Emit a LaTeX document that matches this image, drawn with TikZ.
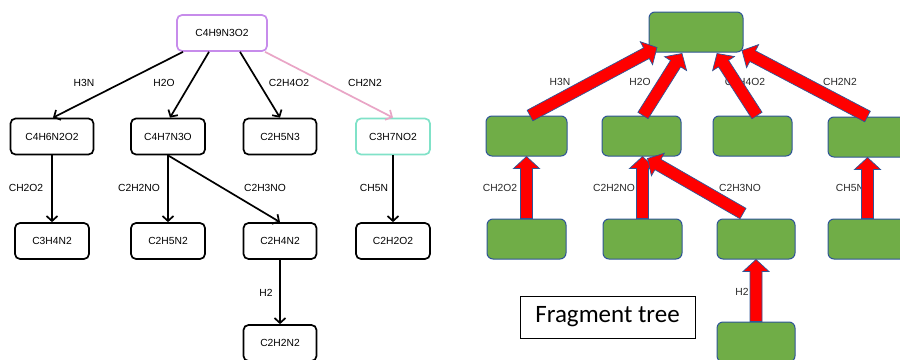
\documentclass[tikz,border=0pt]{standalone}
\usepackage{fontspec}
\setmainfont{Liberation Sans}
\newfontfamily\calibri{Carlito}
\usetikzlibrary{calc,arrows.meta}

\definecolor{rootpurple}{RGB}{199,140,235}
\definecolor{leafteal}{RGB}{128,226,200}
\definecolor{edgepink}{RGB}{233,165,198}
\definecolor{fraggreen}{RGB}{112,173,71}
\definecolor{fragblue}{RGB}{47,85,151}
\definecolor{labelgrey}{RGB}{40,40,40}

% thick block arrow from #1 (tail) to #2 (tip)
\newcommand\redarrow[2]{%
  \path (#1) coordinate (ra-s) (#2) coordinate (ra-t);
  \path ($(ra-t)!12pt!(ra-s)$) coordinate (ra-h);
  \filldraw[fill=red, draw=fragblue, line width=0.7pt, line join=miter]
    ($(ra-s)!6pt!90:(ra-t)$) -- ($(ra-h)!6pt!90:(ra-t)$) --
    ($(ra-h)!13pt!90:(ra-t)$) -- (ra-t) --
    ($(ra-h)!13pt!-90:(ra-t)$) -- ($(ra-h)!6pt!-90:(ra-t)$) --
    ($(ra-s)!6pt!-90:(ra-t)$) -- cycle;
}

\begin{document}
\begin{tikzpicture}[x=1pt,y=-1pt,
  lbox/.style={draw, line width=1.7pt, rounded corners=5pt, minimum height=36pt,
    inner sep=0pt, font=\fontsize{10.3}{12}\selectfont},
  ledge/.style={line width=1.7pt, -{Straight Barb[length=5pt,width=11pt]}},
  lab/.style={inner sep=0pt, font=\fontsize{10.3}{12}\selectfont},
  rlab/.style={lab, text=labelgrey},
  gbox/.style={draw=fragblue, fill=fraggreen, line width=1pt, rounded corners=6pt,
    minimum height=40pt, inner sep=0pt}]

\useasboundingbox[fill=white] (0,0) rectangle (900,359);

% ---------- left: labelled fragment tree ----------
\node[lbox, draw=rootpurple, minimum width=90pt] (L0) at (222,33) {C4H9N3O2};

\node[lbox, minimum width=83pt] (L2a) at (52,136.5) {C4H6N2O2};
\node[lbox, minimum width=74pt] (L2b) at (168,136.5) {C4H7N3O};
\node[lbox, minimum width=73pt] (L2c) at (280,136.5) {C2H5N3};
\node[lbox, draw=leafteal, minimum width=74pt] (L2d) at (393,136.5) {C3H7NO2};

\node[lbox, minimum width=74pt] (L3a) at (52,241) {C3H4N2};
\node[lbox, minimum width=74pt] (L3b) at (168,241) {C2H5N2};
\node[lbox, minimum width=73pt] (L3c) at (280,241) {C2H4N2};
\node[lbox, minimum width=74pt] (L3d) at (393,241) {C2H2O2};

\node[lbox, minimum width=73pt] (L4) at (280,343) {C2H2N2};

\draw[ledge] ([xshift=-39pt]L0.south) -- ([xshift=1pt]L2a.north);
\draw[ledge] ([xshift=-13pt]L0.south) -- ([xshift=2pt]L2b.north);
\draw[ledge] ([xshift=18pt]L0.south) -- (L2c.north);
\draw[ledge, draw=edgepink] ([xshift=43pt]L0.south) -- (L2d.north);

\draw[ledge] (L2a.south) -- (L3a.north);
\draw[ledge] (L2b.south) -- (L3b.north);
\draw[ledge] (L2b.south) -- (L3c.north);
\draw[ledge] (L2d.south) -- (L3d.north);
\draw[ledge] (L3c.south) -- (L4.north);

\node[lab] (lh3n) at (84,83) {H3N};
\node[lab] (lh2o) at (164,83) {H2O};
\node[lab] (lc2h4o2) at (289,83) {C2H4O2};
\node[lab] (lch2n2) at (365,83) {CH2N2};
\node[lab] (lch2o2) at (26,188) {CH2O2};
\node[lab] (lc2h2no) at (139,188) {C2H2NO};
\node[lab] (lc2h3no) at (265,188) {C2H3NO};
\node[lab] (lch5n) at (374,188) {CH5N};
\node[lab] (lh2) at (266,293) {H2};

% ---------- right: unlabelled tree with reversed arrows ----------
\node[rlab] (rh3n) at (560,82) {H3N};
\node[rlab] (rh2o) at (640,82) {H2O};
\node[rlab] (rc2h4o2) at (745,82) {C2H4O2};
\node[rlab] (rch2n2) at (840,82) {CH2N2};
\node[rlab] (rch2o2) at (500,188) {CH2O2};
\node[rlab] (rc2h2no) at (614,188) {C2H2NO};
\node[rlab] (rc2h3no) at (740,188) {C2H3NO};
\node[rlab] (rch5n) at (850,188) {CH5N};
\node[rlab] (rh2) at (742,292) {H2};

\node[gbox, minimum width=94pt] (R0) at (696,32) {};

\node[gbox, minimum width=81pt] (R2a) at (526.5,136) {};
\node[gbox, minimum width=79pt] (R2b) at (641.5,136) {};
\node[gbox, minimum width=79pt] (R2c) at (752.5,136) {};
\node[gbox, minimum width=79pt] (R2d) at (867.5,137) {};

\node[gbox, minimum width=79pt] (R3a) at (526.5,239) {};
\node[gbox, minimum width=79pt] (R3b) at (642.5,239) {};
\node[gbox, minimum width=78pt] (R3c) at (756,239) {};
\node[gbox, minimum width=79pt] (R3d) at (867.5,239) {};

\node[gbox, minimum width=78pt] (R4) at (756,342) {};

\redarrow{[xshift=3.5pt]R2a.north}{[xshift=-39pt,yshift=5pt]R0.south}
\redarrow{[xshift=1.5pt]R2b.north}{[xshift=-14pt,yshift=-1pt]R0.south}
\redarrow{[xshift=4.5pt]R2c.north}{[xshift=21pt,yshift=-1pt]R0.south}
\redarrow{R2d.north}{[xshift=46pt,yshift=2pt]R0.south}

\redarrow{R3a.north}{R3a.north |- R2a.south}
\redarrow{R3b.north}{R3b.north |- R2b.south}
\redarrow{[xshift=-13pt,yshift=5pt]R3c.north}{[xshift=6pt,yshift=-2pt]R2b.south}
\redarrow{R3d.north}{R3d.north |- R2d.south}
\redarrow{R4.north}{R4.north |- R3c.south}

\node[draw, line width=0.9pt, minimum width=175pt, minimum height=42pt, inner sep=0pt,
  font=\calibri\fontsize{25}{28}\selectfont] (caption) at (607.5,317) {Fragment tree};

\end{tikzpicture}
\end{document}
